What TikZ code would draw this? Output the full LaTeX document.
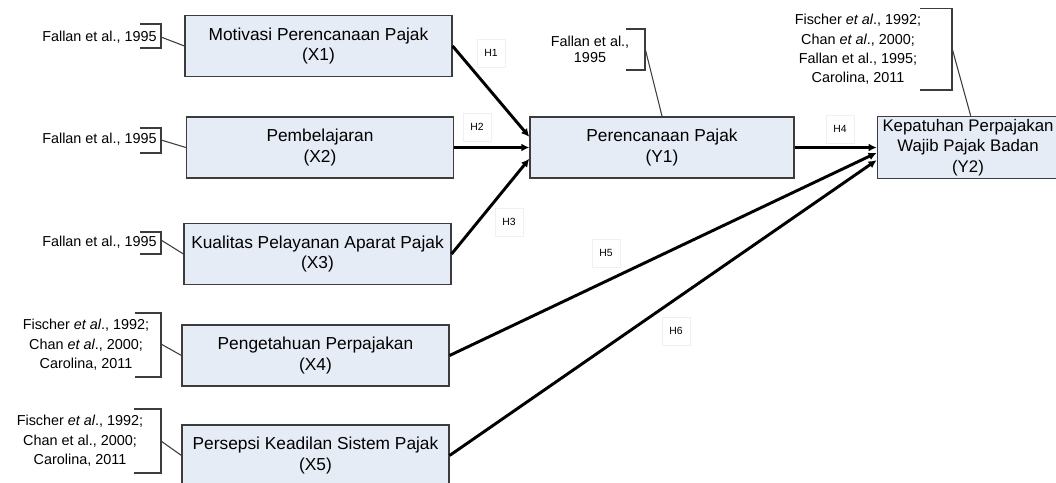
\documentclass[tikz,border=0pt]{standalone}
\usepackage{fontspec}
\setmainfont{Liberation Sans}
\usetikzlibrary{arrows.meta}
\definecolor{boxfill}{RGB}{230,236,246}
\definecolor{boxline}{RGB}{60,60,60}
\tikzset{
  varbox/.style={draw=boxline, line width=1.1pt, fill=boxfill, minimum width=200pt, minimum height=46pt, align=center, inner sep=2pt, font=\fontsize{13}{15.4}\selectfont},
  cite/.style={align=center, inner sep=0pt, font=\fontsize{10.8}{14.6}\selectfont},
  hyp/.style={draw=gray!12, minimum size=21pt, inner sep=0pt, font=\fontsize{7.8}{9}\selectfont},
  path/.style={line width=2.2pt, -{Latex[length=6pt,width=6pt]}},
  bracket/.style={line width=0.8pt, draw=boxline}
}
\begin{document}
\begin{tikzpicture}[x=0.75pt,y=-0.75pt]
\useasboundingbox (0,0) rectangle (1056,482);

\node[varbox] (X1) at (318.5,46) {Motivasi Perencanaan Pajak\\(X1)};
\node[varbox] (X2) at (320,147.5) {Pembelajaran\\(X2)};
\node[varbox] (X3) at (317.5,254) {Kualitas Pelayanan Aparat Pajak\\(X3)};
\node[varbox] (X4) at (315.5,355.5) {Pengetahuan Perpajakan\\(X4)};
\node[varbox] (X5) at (315.5,455.5) {Persepsi Keadilan Sistem Pajak\\(X5)};
\node[varbox, minimum width=198pt] (Y1) at (662,147.5) {Perencanaan Pajak\\(Y1)};
\node[varbox, minimum width=136pt, font=\fontsize{12.6}{15.4}\selectfont] (Y2) at (968,147.5) {Kepatuhan Perpajakan\\Wajib Pajak Badan\\(Y2)};

%citations
\node[cite, anchor=east] (c1) at (157,37) {Fallan et al., 1995};
\node[cite, anchor=east] (c2) at (157,139) {Fallan et al., 1995};
\node[cite, anchor=east] (c3) at (157,242) {Fallan et al., 1995};
\node[cite] (c4) at (86,345) {Fischer \textit{et al}., 1992;\\Chan \textit{et al}., 2000;\\Carolina, 2011};
\node[cite] (c5) at (80,441) {Fischer \textit{et al}., 1992;\\Chan et al., 2000;\\Carolina, 2011};
\node[cite, font=\fontsize{10.8}{12}\selectfont] (cY1) at (590,49) {Fallan et al.,\\1995};
\node[cite] (cY2) at (858,49.5) {Fischer \textit{et al}., 1992;\\Chan \textit{et al}., 2000;\\Fallan et al., 1995;\\Carolina, 2011};

%brackets
\draw[bracket] (140,24) -- (161,24) -- (161,48) -- (140,48);
\coordinate (b1) at (161,37);
\draw[bracket] (140,128) -- (161,128) -- (161,153) -- (140,153);
\coordinate (b2) at (161,140);
\draw[bracket] (140,232) -- (161,232) -- (161,254) -- (140,254);
\coordinate (b3) at (161,240);
\draw[bracket] (135,313) -- (161,313) -- (161,377) -- (135,377);
\coordinate (b4) at (161,344);
\draw[bracket] (134,409) -- (161,409) -- (161,473) -- (134,473);
\coordinate (b5) at (161,441);
\draw[bracket] (626,29) -- (645,29) -- (645,70) -- (626,70);
\coordinate (bY1) at (645,48);
\draw[bracket] (920,8.5) -- (952,8.5) -- (952,90) -- (920,90);
\coordinate (bY2) at (952,48);

\draw[bracket] (b1) -- (X1.west);
\draw[bracket] (b2) -- (X2.west);
\draw[bracket] (b3) -- (X3.west);
\draw[bracket] (b4) -- (X4.west);
\draw[bracket] (b5) -- (X5.west);
\draw[bracket] (bY1) -- (Y1.north);
\draw[bracket] (bY2) -- ([xshift=2pt]Y2.north);

%hypotheses
\draw[path] (X1.east) -- ([yshift=8pt]Y1.west);
\draw[path] (X2.east) -- (Y1.west);
\draw[path] (X3.east) -- ([yshift=-8.5pt]Y1.west);
\draw[path] (Y1.east) -- (Y2.west);
\draw[path] (X4.east) -- ([yshift=-4pt]Y2.west);
\draw[path] (X5.east) -- ([yshift=-9.5pt]Y2.west);

\node[hyp] (h1) at (491,53) {H1};
\node[hyp] (h2) at (477,127) {H2};
\node[hyp] (h3) at (509,222) {H3};
\node[hyp] (h4) at (840,129) {H4};
\node[hyp] (h5) at (606,253) {H5};
\node[hyp] (h6) at (676,331) {H6};
\end{tikzpicture}
\end{document}
